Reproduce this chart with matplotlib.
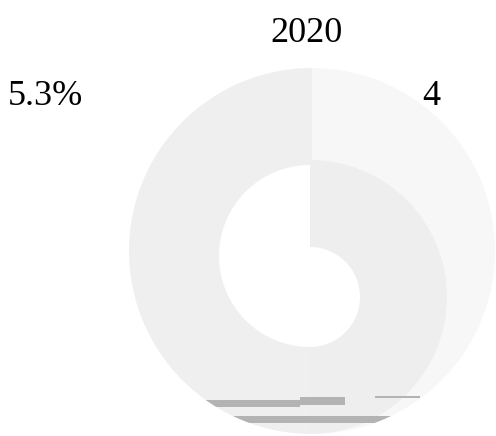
import matplotlib
matplotlib.use("Agg")
import matplotlib.pyplot as plt
from matplotlib.patches import Circle

# chart data
TITLE = "2020"
SHARES = [50.0, 50.0]          # right half, left half
LABELS = ["4", "5.3%"]
OUTER_COLORS = ["#f7f7f7", "#efefef"]
INNER_COLOR = "#eeeeee"

# rendering leftovers at the bottom of the ring: (left, right, top, bottom) in px
GLITCH_BARS = [
    (190, 300, 400, 407),
    (300, 345, 397, 405),
    (375, 420, 396, 398),
    (190, 445, 416, 423),
]

W, H = 496, 436
OUTER_C, OUTER_R = (312, H - 251), 183
LEFT_C, LEFT_R = (310, H - 256), 91
RIGHT_C, RIGHT_R, HOLE_R = (310, H - 297), 137, 50

fig = plt.figure(figsize=(W / 100, H / 100), dpi=100)
ax = fig.add_axes([0, 0, 1, 1])

common = dict(startangle=90, counterclock=False, wedgeprops=dict(linewidth=0))
ax.pie(SHARES, radius=OUTER_R, center=OUTER_C, colors=OUTER_COLORS, **common)
ax.pie(SHARES, radius=LEFT_R, center=LEFT_C, colors=["none", "white"], **common)
ax.pie(SHARES, radius=RIGHT_R, center=RIGHT_C, colors=[INNER_COLOR, "none"], **common)
ax.pie(SHARES, radius=HOLE_R, center=RIGHT_C, colors=["white", "white"], **common)

clip = Circle(OUTER_C, OUTER_R, transform=ax.transData)
for x0, x1, y0, y1 in GLITCH_BARS:
    bar = ax.barh(H - (y0 + y1) / 2, x1 - x0, height=y1 - y0, left=x0,
                  color="#b3b3b3", linewidth=0)
    for b in bar:
        b.set_clip_path(clip)

font = dict(family="Liberation Serif", fontsize=26, color="black")
ax.text(306, H - 42, TITLE, ha="center", va="baseline", **font)
ax.text(422, H - 105, LABELS[0], ha="left", va="baseline", **font)
ax.text(8, H - 105, LABELS[1], ha="left", va="baseline", **font)

ax.set_xlim(0, W)
ax.set_ylim(0, H)
ax.set_aspect("equal")
ax.axis("off")

fig.savefig("out.png", dpi=100)
